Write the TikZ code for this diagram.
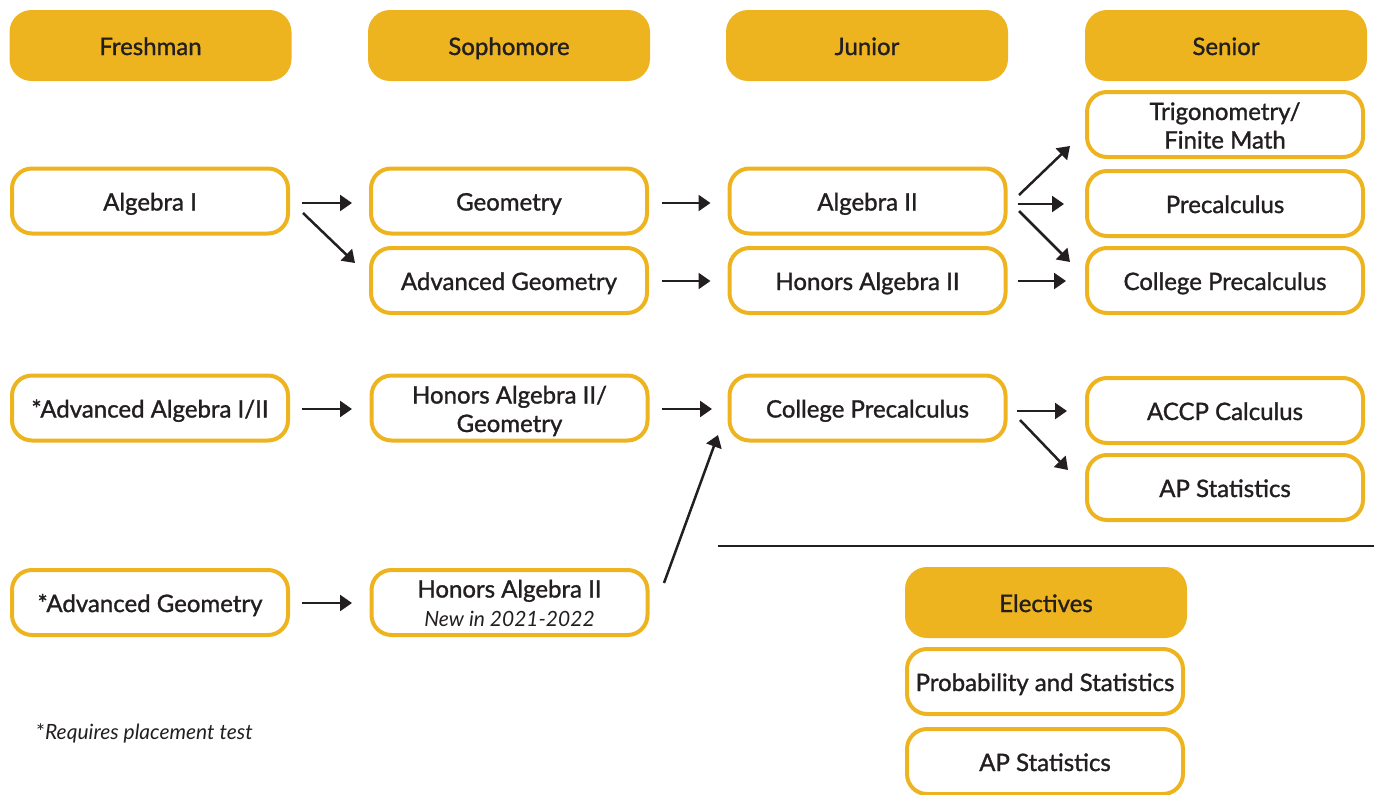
\documentclass[tikz,border=0pt]{standalone}
\usepackage{fontspec}
\setmainfont{Lato}
\newfontfamily\semib{Lato}[FakeBold=1.2]
\usetikzlibrary{arrows.meta}
\definecolor{gold}{HTML}{EDB420}
\definecolor{ink}{HTML}{231F20}
\tikzset{
  hdr/.style={rounded corners=22pt, fill=gold, draw=none, minimum width=282pt, minimum height=71pt, font=\semib\fontsize{24}{28.5}\selectfont, text=ink, inner sep=0pt, text height=21pt, text depth=2pt},
  course/.style={rounded corners=20pt, fill=white, draw=gold, line width=4pt, minimum width=276pt, minimum height=65pt, font=\semib\fontsize{24}{28.5}\selectfont, text=ink, inner sep=0pt, align=center, text height=21pt, text depth=2pt},
  twoline/.style={text height=50pt, text depth=2pt},
  arr/.style={draw=ink, line width=2.5pt, -{Triangle[length=12pt,width=16pt]}},
}
\begin{document}
\begin{tikzpicture}[x=1pt,y=-1pt]
\useasboundingbox (0,0) rectangle (1374,795);
% headers
\node[hdr] (hF) at (150.5,45.5) {Freshman};
\node[hdr] (hS) at (509,45.5) {Sophomore};
\node[hdr] (hJ) at (867,45.5) {Junior};
\node[hdr] (hSe) at (1226,45.5) {Senior};
% courses
\node[course] (alg1) at (150,201) {Algebra I};
\node[course] (geom) at (509,201) {Geometry};
\node[course] (advgeom) at (509,280.5) {Advanced Geometry};
\node[course] (alg2) at (867.5,201) {Algebra II};
\node[course] (halg2) at (867.5,280.5) {Honors Algebra II};
\node[course, twoline] (trig) at (1225,124.5) {Trigonometry/\\Finite Math};
\node[course] (precalc) at (1225,203.5) {Precalculus};
\node[course] (cprecalc) at (1225,280.5) {College Precalculus};
\node[course] (aai) at (150,408) {*Advanced Algebra I/II};
\node[course, twoline] (hag) at (509.5,408) {Honors Algebra II/\\Geometry};
\node[course] (cp2) at (867.5,408) {College Precalculus};
\node[course] (accp) at (1225,410.5) {ACCP Calculus};
\node[course] (aps) at (1225,487.5) {AP Statistics};
\node[course] (ag3) at (150,602.5) {*Advanced Geometry};
\node[course, twoline] (ha3) at (509.5,602.5) {Honors Algebra II\\[0.5pt]{\rmfamily\itshape\fontsize{21}{25}\selectfont New in 2021-2022}};
% electives
\node[hdr] (elec) at (1046,602.5) {Electives};
\node[course] (prob) at (1045,681.5) {Probability and Statistics};
\node[course] (aps2) at (1045,761.5) {AP Statistics};
% footnote
\node[anchor=west, text=ink, font=\fontsize{21}{25}\selectfont\itshape, inner sep=0pt] (foot) at (36,733) {{\upshape *}Requires placement test};
% separator
\coordinate (sepA) at (718,546);
\coordinate (sepB) at (1374,546);
\draw[ink, line width=2pt] (sepA) -- (sepB);
% arrows
\draw[arr] ([shift={(12,2)}]alg1.east) -- ([shift={(-17,2)}]geom.west);
\draw[arr] ([shift={(13,12)}]alg1.east) -- ([shift={(-14,-17.5)}]advgeom.west);
\draw[arr] ([shift={(13,2)}]geom.east) -- ([shift={(-17,2)}]alg2.west);
\draw[arr] ([shift={(13,0.5)}]advgeom.east) -- ([shift={(-17,0.5)}]halg2.west);
\draw[arr] ([shift={(11.5,-6)}]alg2.east) -- ([shift={(-15,21.5)}]trig.west);
\draw[arr] ([shift={(10,3)}]alg2.east) -- ([shift={(-21,0.5)}]precalc.west);
\draw[arr] ([shift={(11.5,10)}]alg2.east) -- ([shift={(-15,-18.5)}]cprecalc.west);
\draw[arr] ([shift={(10,0.5)}]halg2.east) -- ([shift={(-19,0.5)}]cprecalc.west);
\draw[arr] ([shift={(12,1)}]aai.east) -- ([shift={(-17.5,1)}]hag.west);
\draw[arr] ([shift={(12.5,1)}]hag.east) -- ([shift={(-15.5,1)}]cp2.west);
\draw[arr] ([shift={(14.5,-19.5)}]ha3.east) -- ([shift={(-9.5,27)}]cp2.west);
\draw[arr] ([shift={(9.5,3)}]cp2.east) -- ([shift={(-18,0.5)}]accp.west);
\draw[arr] ([shift={(12.5,12)}]cp2.east) -- ([shift={(-17,-17.5)}]aps.west);
\draw[arr] ([shift={(12,0.5)}]ag3.east) -- ([shift={(-17.5,0.5)}]ha3.west);
\end{tikzpicture}
\end{document}
